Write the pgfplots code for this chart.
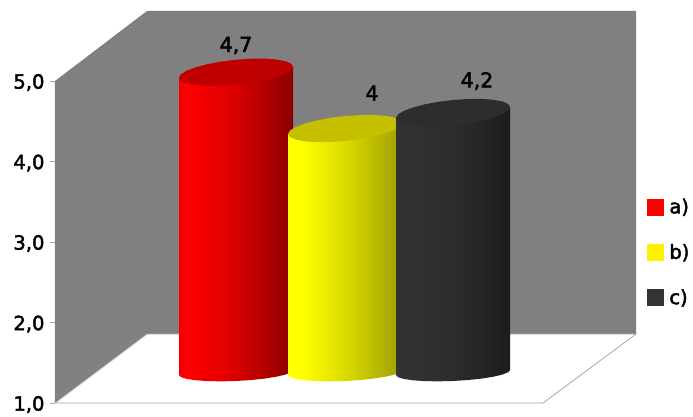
\documentclass[border=0pt]{standalone}
\usepackage{pgfplots}
\usepackage{pgfplotstable}
\usepackage{fontspec}
\setmainfont{DejaVu Sans}[RawFeature={embolden=2.2}]
\pgfplotsset{compat=1.18}

\newcommand\lab{\fontsize{19.5}{22}\selectfont}
\newcommand\vallab{\fontsize{20.5}{22}\selectfont}

\definecolor{wall}{HTML}{808080}
\definecolor{edge}{HTML}{A8A8A8}
\definecolor{capred}{HTML}{C00000}
\definecolor{capyellow}{HTML}{C4C000}
\definecolor{capblack}{HTML}{2D2D2D}
\definecolor{keyblack}{HTML}{333333}

% Cylinder sides: the path's bounding box spans 25bp to 75bp of each shading
\pgfdeclarehorizontalshading{redbody}{100bp}{
  color(0bp)=(red!95!black); color(25bp)=(red!95!black); color(29bp)=(red);
  color(50bp)=(red!85!black); color(75bp)=(red!55!black); color(100bp)=(red!55!black)}
\pgfdeclarehorizontalshading{yellowbody}{100bp}{
  color(0bp)=(yellow); color(25bp)=(yellow); color(31bp)=(yellow);
  color(50bp)=(yellow!86!black); color(75bp)=(yellow!62!black); color(100bp)=(yellow!62!black)}
\pgfdeclarehorizontalshading{blackbody}{100bp}{
  color(0bp)=(keyblack); color(25bp)=(keyblack);
  color(50bp)=(keyblack!88!black); color(75bp)=(keyblack!55!black); color(100bp)=(keyblack!55!black)}

% Outline of a cylinder cap, offsets from its centre
\pgfplotstableread{
dx dy
57.0 5.50
55.1 8.55
49.4 11.01
40.3 12.73
28.5 13.58
14.8 13.49
0.0 12.50
-14.8 10.65
-28.5 8.08
-40.3 4.95
-49.4 1.49
-55.1 -2.07
-57.0 -5.50
-55.1 -8.55
-49.4 -11.01
-40.3 -12.73
-28.5 -13.58
-14.8 -13.49
0.0 -12.50
14.8 -10.65
28.5 -8.08
40.3 -4.95
49.4 -1.49
55.1 2.07
57.0 5.50
}\captable

% Outline of a cylinder side: top edge (top=1), then the front arc of the base (top=0)
\pgfplotstableread{
dx dy top
-57.0 -5.50 1
57.0 5.50 1
57.0 2.50 0
55.1 0.22 0
49.4 -2.08 0
40.3 -4.24 0
28.5 -6.11 0
14.8 -7.56 0
0.0 -8.50 0
-14.8 -8.86 0
-28.5 -8.61 0
-40.3 -7.78 0
-49.4 -6.42 0
-55.1 -4.62 0
-57.0 -2.50 0
}\bodytable

% #1 centre x, #2 value, #3 side shading, #4 cap colour
\newcommand\cylinder[4]{
  \addplot[draw=none, shading=#3, forget plot] table
    [x expr=#1+\thisrow{dx}, y expr=1.379+\thisrow{top}*(#2-1+0.03)+\thisrow{dy}/80.5]
    {\bodytable} -- cycle;
  \addplot[draw=none, fill=#4, forget plot] table
    [x expr=#1+\thisrow{dx}, y expr=1.379+(#2-1+0.03)+\thisrow{dy}/80.5]
    {\captable} -- cycle;
}

\begin{document}
\begin{tikzpicture}[x=1pt,y=1pt]
\path[use as bounding box] (-55,0) rectangle (638,416);
\begin{axis}[
  at={(0,0)}, anchor=origin,
  scale only axis, width=638pt, height=416pt,
  xmin=55, xmax=693, ymin=0.8385, ymax=6.0062,
  clip=false,
  axis line style={draw=none},
  xtick=\empty,
  ytick={1,2,3,4,5},
  tick pos=left,
  tick align=outside,
  major tick length=5pt,
  y tick style={edge, line width=0.8pt},
  tick label style={font=\lab},
  yticklabel style={xshift=-2pt, yshift=-1.5pt, /pgf/number format/.cd, use comma, fixed, fixed zerofill, precision=1, assume math mode=true},
  legend style={
    at={(axis cs:647,3.54)}, anchor=north west,
    draw=none, fill=none, inner sep=0pt, outer sep=0pt,
    row sep=29pt, font=\lab,
    nodes={inner sep=0pt, outer sep=0pt},
  },
  legend cell align=left,
]
% Back and side walls
\addplot[fill=wall, draw=none, forget plot] coordinates
  {(55,5) (147,5.87) (636,5.87) (636,1.857) (147,1.857) (55,1)} -- cycle;
% Floor
\addplot[fill=white, draw=edge, line width=0.8pt, forget plot] coordinates
  {(55,1) (147,1.857) (636,1.857) (543,1)} -- cycle;

\cylinder{236}{4.7}{redbody}{capred}
\cylinder{345}{4}{yellowbody}{capyellow}
\cylinder{453}{4.2}{blackbody}{capblack}

\node[font=\vallab] at (axis cs:236,5.44) {4,7};
\node[font=\vallab] at (axis cs:372,4.85) {4};
\node[font=\vallab] at (axis cs:477,5.0) {4,2};

\addlegendimage{legend image code/.code={\fill[red] (0pt,-8pt) rectangle (16pt,8pt);\path (22pt,0pt);}}
\addlegendentry{a)}
\addlegendimage{legend image code/.code={\fill[yellow] (0pt,-8pt) rectangle (16pt,8pt);\path (22pt,0pt);}}
\addlegendentry{b)}
\addlegendimage{legend image code/.code={\fill[keyblack] (0pt,-8pt) rectangle (16pt,8pt);\path (22pt,0pt);}}
\addlegendentry{c)}
\end{axis}
\end{tikzpicture}
\end{document}
